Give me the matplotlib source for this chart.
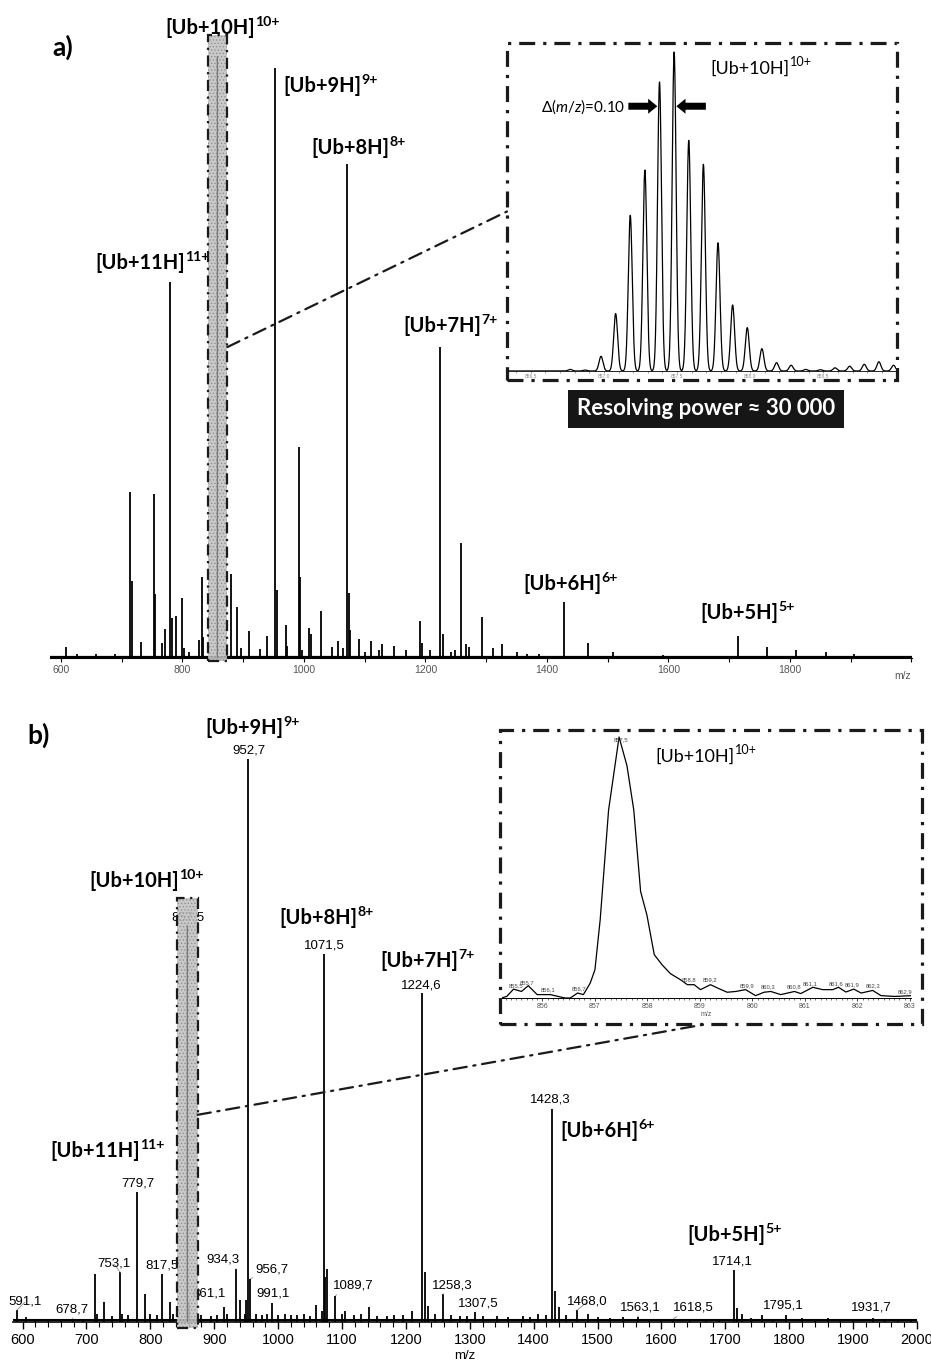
import matplotlib
matplotlib.use('Agg')
import matplotlib.pyplot as plt
import numpy as np
from matplotlib.patches import Rectangle, ConnectionPatch
from matplotlib.ticker import MultipleLocator, FormatStrFormatter

W, H = 931, 1364

# ---------------- data ----------------
# panel a: high resolution spectrum, sticks (relative intensity, 952.7 = 100)
a_mz = [609, 626, 658, 689, 714.0, 716.5, 732, 753.1, 755.5, 766, 771, 779.7, 783, 789,
        799, 803, 810, 827, 832, 834, 857.5, 880, 890, 896, 909, 928, 939, 952.7, 955,
        970, 972, 991.1, 993.5, 997, 1008, 1011, 1028, 1047, 1056, 1065, 1071.5, 1074,
        1076.5, 1091, 1101, 1111, 1123, 1129, 1149, 1168, 1191, 1194, 1208, 1224.6, 1229,
        1242, 1249, 1259, 1267, 1272, 1293, 1311, 1326, 1351, 1367, 1387, 1428.3, 1468,
        1509, 1548, 1591, 1714.1, 1763, 1810, 1860, 1906, 1954]
a_int = [1.9, 0.7, 0.6, 0.6, 28.1, 13.0, 2.7, 27.8, 10.9, 2.5, 5.0, 63.7, 6.7, 7.1,
         10.2, 1.7, 1.0, 3.0, 13.7, 3.5, 102.0, 14.2, 8.7, 1.7, 4.5, 1.6, 3.7, 100.0, 11.5,
         5.6, 2.0, 35.7, 13.8, 1.3, 5.1, 4.0, 7.9, 1.9, 2.9, 1.7, 83.7, 11.0,
         4.8, 3.2, 1.1, 2.9, 1.4, 2.4, 2.0, 1.4, 6.2, 2.5, 1.4, 52.7, 4.0,
         1.0, 1.3, 19.5, 2.3, 1.9, 6.9, 1.7, 2.4, 1.1, 0.6, 0.7, 9.5, 2.5,
         1.0, 0.4, 0.5, 3.8, 1.9, 1.3, 1.1, 0.7, 0.4]
a_ticks = [600, 800, 1000, 1200, 1400, 1600, 1800]

# panel a inset: isotope pattern of [Ub+10H]10+
iso_mz = [856.98, 857.08, 857.18, 857.28, 857.38, 857.48, 857.58, 857.68, 857.78, 857.88,
          857.98, 858.08, 858.18, 858.28, 858.38, 858.48, 858.58, 858.68, 858.78, 858.88,
          858.98]
iso_int = [4.6, 18.0, 48.8, 63.0, 90.6, 100.0, 72.3, 64.8, 40.2, 20.7,
           13.6, 7.0, 2.6, 1.8, 0.5, 0.4, 1.0, 1.5, 2.1, 2.9, 1.8]
iso_small_mz = [856.77, 856.87]
iso_small_int = [0.5, 0.3]
iso_ticks = [856.5, 857.0, 857.5, 858.0, 858.5]

# panel b: low resolution spectrum, sticks (952.7 = 100)
b_mz = [591.1, 605, 620, 640, 660, 678.7, 695, 714, 716, 728, 740, 753.1, 756, 765, 779.7,
        792, 800, 810, 817.5, 830, 835, 857.5, 861.1, 880, 895, 905, 915, 920, 934.3, 941,
        948, 950, 952.7, 956.7, 965, 975, 982, 991.1, 1000, 1010, 1020, 1030, 1040, 1050,
        1060, 1068, 1071.5, 1074, 1077, 1089.7, 1100, 1105, 1118, 1130, 1143, 1155, 1170,
        1182, 1195, 1210, 1224.6, 1229.5, 1234, 1245, 1258.3, 1270, 1285, 1295, 1307.5,
        1320, 1342, 1360, 1383, 1395, 1406, 1420, 1428.3, 1433, 1440, 1450, 1468.0, 1485,
        1500, 1520, 1540, 1563.1, 1580, 1600, 1618.5, 1645, 1670, 1690, 1714.1, 1718, 1726,
        1740, 1758, 1775, 1795.1, 1820, 1840, 1860, 1880, 1900, 1931.7, 1950, 1970, 1990]
b_int = [2.1, 0.8, 0.5, 0.6, 0.5, 0.6, 0.5, 8.5, 1.5, 3.6, 1.0, 8.8, 1.5, 1.2, 23.1,
         5.0, 1.5, 1.2, 8.6, 3.6, 1.5, 70.5, 3.6, 1.2, 1.0, 1.2, 2.7, 1.5, 9.4, 3.9,
         1.5, 3.9, 100.0, 7.7, 1.5, 1.2, 1.4, 3.3, 1.2, 1.5, 1.3, 1.2, 1.4, 1.1,
         3.0, 2.0, 65.4, 8.0, 9.4, 4.7, 1.5, 2.0, 1.2, 1.4, 2.7, 1.1, 1.0,
         1.3, 1.2, 2.0, 58.4, 8.9, 2.9, 1.4, 4.9, 1.2, 1.0, 1.1, 1.7,
         1.0, 1.1, 0.9, 1.1, 0.9, 1.5, 1.2, 37.8, 5.5, 2.7, 1.2, 2.1, 1.5,
         0.8, 0.7, 0.8, 0.9, 0.6, 0.6, 0.6, 0.6, 0.6, 0.6, 9.2, 2.4, 1.5,
         0.7, 1.2, 0.6, 1.3, 0.7, 0.6, 0.7, 0.5, 0.6, 0.7, 0.5, 0.6, 0.5]
b_labeled = [591.1, 678.7, 753.1, 779.7, 817.5, 857.5, 861.1, 934.3, 952.7, 956.7, 991.1,
             1071.5, 1089.7, 1224.6, 1258.3, 1307.5, 1428.3, 1468.0, 1563.1, 1618.5,
             1714.1, 1795.1, 1931.7]

# panel b inset: profile of [Ub+10H]10+
prof_mz = [855.22, 855.32, 855.45, 855.6, 855.73, 855.9, 856.15, 856.43, 856.53, 856.67,
           856.78, 856.91, 857.0, 857.1, 857.26, 857.46, 857.61, 857.74, 857.87, 857.99,
           858.13, 858.28, 858.44, 858.63, 858.76, 858.89, 859.01, 859.2, 859.36, 859.52,
           859.68, 859.87, 860.06, 860.22, 860.35, 860.54, 860.8, 860.92, 861.15, 861.34,
           861.53, 861.64, 861.78, 861.93, 862.07, 862.29, 862.45, 862.71, 863.03]
prof_int = [0.0, 0.6, 3.4, 2.5, 4.7, 1.3, 1.3, 0.0, 0.0, 1.9,
            1.3, 5.7, 10.8, 30.0, 72.0, 100.0, 89.0, 72.0, 40.8, 31.8,
            16.6, 12.7, 9.3, 7.0, 5.1, 5.1, 3.2, 5.1, 3.6, 2.2,
            2.5, 3.2, 0.9, 2.2, 2.5, 1.3, 2.5, 1.7, 4.1, 3.2,
            3.2, 4.1, 2.3, 3.4, 1.9, 2.9, 0.9, 0.6, 0.9]
prof_labels = [855.5, 855.7, 856.1, 856.7, 857.5, 858.8, 859.2, 859.9, 860.3, 860.8,
               861.1, 861.6, 861.9, 862.3, 862.9]

BOX = (842, 874)   # zoomed m/z window shown by the grey bars

# ---------------- style ----------------
plt.rcParams['font.family'] = ['Liberation Sans', 'DejaVu Sans']
plt.rcParams['mathtext.fontset'] = 'custom'
plt.rcParams['mathtext.rm'] = 'Lato'
plt.rcParams['mathtext.it'] = 'Lato:italic'
plt.rcParams['hatch.linewidth'] = 0.6
NARROW = ['Liberation Sans Narrow', 'Liberation Sans', 'DejaVu Sans']
LATO = ['Lato', 'DejaVu Sans']
DASHDOT = (0, (5, 2.5, 1, 2.5))


def px_axes(fig, left, top, right, bottom):
  return fig.add_axes([left / W, 1 - bottom / H, (right - left) / W, (bottom - top) / H])


def fp(x, y):
  return (x / W, 1 - y / H)


def sup_text(ax, x, y, main, sup, size, weight, renderer):
  # main text with baseline at (x, y) px, superscript placed right after it
  t = ax.text(*fp(x, y), main, transform=ax.figure.transFigure, family=LATO, weight=weight,
              fontsize=size, ha='left', va='baseline', zorder=3)
  bb = t.get_window_extent(renderer)
  rise = size * 0.42 * 100 / 72
  ax.text((bb.x1 + 0.5) / W, (H - y + rise) / H, sup, transform=ax.figure.transFigure,
          family=LATO, weight=weight, fontsize=size * 0.7, ha='left', va='baseline', zorder=3)


def ion(ax, x, y, n, renderer, size=14.5):
  sup_text(ax, x, y, '[Ub+%dH]' % n, '%d+' % n, size, 'bold', renderer)


def zoom_box(ax, bottom, top):
  ax.add_patch(Rectangle((BOX[0], bottom), BOX[1] - BOX[0], top - bottom, facecolor='#c4c4c4',
                         edgecolor='#8e8e8e', hatch='.....', lw=0, alpha=0.9, zorder=5, clip_on=False))
  ax.add_patch(Rectangle((BOX[0], bottom), BOX[1] - BOX[0], top - bottom, fill=False,
                         edgecolor='#1a1a1a', lw=1.6, ls=DASHDOT, zorder=6, clip_on=False))


def frame(fig, left, top, right, bottom):
  fr = px_axes(fig, left, top, right, bottom)
  fr.axis('off')
  fr.add_patch(Rectangle((0, 0), 1, 1, transform=fr.transAxes, fill=False, edgecolor='#1a1a1a',
                         lw=2.3, ls=DASHDOT, clip_on=False))
  return fr


def only_bottom(ax):
  for s in ['left', 'top', 'right']:
    ax.spines[s].set_visible(False)
  ax.set_yticks([])
  ax.patch.set_alpha(0)


fig = plt.figure(figsize=(W / 100, H / 100), dpi=100)
rend = fig.canvas.get_renderer()

# ================= panel a =================
ax_a = px_axes(fig, 50, 30, 912, 658)
ax_a.set_xlim(582, 2001)
ax_a.set_ylim(0, 100 * 628 / 590)
ax_a.vlines(a_mz, 0, a_int, color='black', lw=1.3, zorder=2)
ax_a.axhline(0.25, color='black', lw=1.6, zorder=2)
only_bottom(ax_a)
ax_a.set_xticks(a_ticks)
ax_a.xaxis.set_minor_locator(MultipleLocator(100))
ax_a.tick_params(axis='x', which='both', direction='out', length=3, width=0.8, pad=2,
                 labelsize=7.5, labelcolor='#555')
for lab in ax_a.get_xticklabels():
  lab.set_family(NARROW)
ax_a.text(*fp(903, 676), 'm/z', transform=fig.transFigure, family=NARROW, fontsize=7.5,
          color='#555', ha='center', va='center')

zoom_box(ax_a, -0.5, 105.6)
i10 = a_mz.index(857.5)
ax_a.vlines([a_mz[i10]], 0, [a_int[i10]], color='#7a7a7a', lw=0.8, zorder=7)

ax_a.text(*fp(52, 56), 'a)', transform=fig.transFigure, family=LATO, weight='bold', fontsize=19)
ion(ax_a, 165, 34, 10, rend)
ion(ax_a, 283, 92, 9, rend)
ion(ax_a, 311, 154, 8, rend)
ion(ax_a, 95, 269, 11, rend)
ion(ax_a, 403, 332, 7, rend)
ion(ax_a, 523, 590, 6, rend)
ion(ax_a, 700, 619, 5, rend)

# inset a
frame_a = frame(fig, 507, 43, 897, 380)
ins_a = px_axes(fig, 508, 45, 896, 371)
ins_a.set_xlim(856.344, 858.997)
ins_a.set_ylim(0, 100 * 326 / 319)
grid = np.linspace(856.344, 858.997, 3000)
sigma = 0.0135
prof = np.zeros_like(grid)
for m, h in zip(iso_mz + iso_small_mz, iso_int + iso_small_int):
  prof += h * np.exp(-0.5 * ((grid - m) / sigma) ** 2)
ins_a.plot(grid, prof, color='black', lw=0.9)
only_bottom(ins_a)
ins_a.spines['bottom'].set_linewidth(0.6)
ins_a.set_xticks(iso_ticks)
ins_a.xaxis.set_major_formatter(FormatStrFormatter('%.1f'))
ins_a.xaxis.set_minor_locator(MultipleLocator(0.1))
ins_a.tick_params(axis='x', which='both', direction='out', length=1.5, width=0.4, pad=0.5,
                  labelsize=3.5, labelcolor='#888', color='#555')
sup_text(ins_a, 710, 74, '[Ub+10H]', '10+', 13, 'normal', rend)
ins_a.text(*fp(625, 107), 'Δ($\\mathit{m/z}$)=0.10', transform=fig.transFigure,
           family=LATO, fontsize=11, ha='right', va='center')
arrow_kw = dict(arrowstyle='simple,head_length=0.55,head_width=0.9,tail_width=0.42',
                fc='black', ec='black', lw=0, shrinkA=0, shrinkB=0, mutation_scale=12)
ins_a.annotate('', xy=(iso_mz[4] - 0.015, 83), xytext=(857.167, 83), arrowprops=arrow_kw)
ins_a.annotate('', xy=(iso_mz[5] + 0.015, 83), xytext=(857.697, 83), arrowprops=arrow_kw)

fig.text(*fp(706, 409), 'Resolving power ≈ 30 000', family=LATO, weight='bold', fontsize=16,
         color='white', ha='center', va='center',
         bbox=dict(boxstyle='square,pad=0.4', facecolor='#161616', edgecolor='none'))

fig.add_artist(ConnectionPatch(xyA=(BOX[1], 52.7), coordsA=ax_a.transData, xyB=(0, 0.5),
                               coordsB=frame_a.transAxes, color='#1a1a1a', lw=1.6,
                               ls=(0, (6, 3, 1, 3))))

# ================= panel b =================
ax_b = px_axes(fig, 13, 690, 917, 1322)
ax_b.set_xlim(585, 2000)
ax_b.set_ylim(0, 100 * 632 / 563)
ax_b.vlines(b_mz, 0, b_int, color='black', lw=1.3, zorder=2)
ax_b.axhline(0.3, color='black', lw=1.5, zorder=2)
only_bottom(ax_b)
ax_b.spines['bottom'].set_linewidth(1.2)
ax_b.xaxis.set_major_locator(MultipleLocator(100))
ax_b.xaxis.set_minor_locator(MultipleLocator(20))
ax_b.tick_params(axis='x', which='major', direction='out', length=5, width=1, pad=3,
                 labelsize=10.5)
ax_b.tick_params(axis='x', which='minor', direction='out', length=3.5, width=0.8)
for lab in ax_b.get_xticklabels():
  lab.set_family(NARROW)
ax_b.set_xlabel('m/z', family=NARROW, fontsize=9.5, labelpad=2)

# peak labels (label centre in figure pixels)
b_label_pos = {591.1: (25, 1302), 678.7: (72, 1309), 753.1: (114, 1264), 779.7: (138, 1183),
               817.5: (162, 1265), 857.5: (188, 917), 861.1: (209, 1294), 934.3: (223, 1260),
               952.7: (249, 751), 956.7: (272, 1270), 991.1: (273, 1294), 1071.5: (324, 946),
               1089.7: (353, 1286), 1224.6: (421, 985), 1258.3: (452, 1285), 1307.5: (478, 1304),
               1428.3: (550, 1100), 1468.0: (587, 1302), 1563.1: (640, 1307), 1618.5: (693, 1308),
               1714.1: (732, 1262), 1795.1: (783, 1306), 1931.7: (871, 1308)}
leader = {591.1, 678.7, 753.1, 861.1, 934.3, 956.7, 1089.7, 1258.3, 1468.0, 1563.1, 1618.5}
for v in b_labeled:
  h = b_int[b_mz.index(v)]
  txt = ('%.1f' % v).replace('.', ',')
  arrow = dict(arrowstyle='-', color='#8a8a8a', lw=0.6, shrinkA=0, shrinkB=0) if v in leader else None
  ax_b.annotate(txt, xy=(v, h), xytext=fp(*b_label_pos[v]), textcoords='figure fraction',
                fontsize=9.5, ha='center', va='center', arrowprops=arrow, zorder=3,
                annotation_clip=False)

zoom_box(ax_b, -1.07, 75.3)
i10 = b_mz.index(857.5)
ax_b.vlines([b_mz[i10]], 0, [b_int[i10]], color='#7a7a7a', lw=0.8, zorder=7)

ax_b.text(*fp(27, 744), 'b)', transform=fig.transFigure, family=LATO, weight='bold', fontsize=19)
ion(ax_b, 205, 734, 9, rend)
ion(ax_b, 89, 887, 10, rend)
ion(ax_b, 279, 924, 8, rend)
ion(ax_b, 380, 967, 7, rend)
ion(ax_b, 560, 1137, 6, rend)
ion(ax_b, 50, 1157, 11, rend)
ion(ax_b, 687, 1241, 5, rend)

# inset b
frame_b = frame(fig, 500, 730, 922, 1024)
ins_b = px_axes(fig, 502, 735, 911, 998)
ins_b.set_xlim(855.23, 863.02)
ins_b.set_ylim(0, 100 * 263 / 261)
ins_b.plot(prof_mz, prof_int, color='black', lw=0.9)
only_bottom(ins_b)
ins_b.spines['bottom'].set_linewidth(0.7)
ins_b.xaxis.set_major_locator(MultipleLocator(1))
ins_b.xaxis.set_minor_locator(MultipleLocator(0.1))
ins_b.tick_params(axis='x', which='major', direction='out', length=2.5, width=0.5, pad=1,
                  labelsize=5, labelcolor='#555')
ins_b.tick_params(axis='x', which='minor', direction='out', length=1.5, width=0.4)
ins_b.set_xlabel('m/z', fontsize=5, color='#555', labelpad=1)
for v in prof_labels:
  h = np.interp(v, prof_mz, prof_int)
  ins_b.annotate(('%.1f' % v).replace('.', ','), xy=(v, h), xytext=(0, 1.5),
                 textcoords='offset points', fontsize=4.2, color='#444', ha='center', va='bottom')
sup_text(ins_b, 655, 762, '[Ub+10H]', '10+', 13, 'normal', rend)

fig.add_artist(ConnectionPatch(xyA=(BOX[1], 36.8), coordsA=ax_b.transData, xyB=(0.49, 0),
                               coordsB=frame_b.transAxes, color='#1a1a1a', lw=1.6,
                               ls=(0, (6, 3, 1, 3))))

fig.savefig('out.png', dpi=100)
